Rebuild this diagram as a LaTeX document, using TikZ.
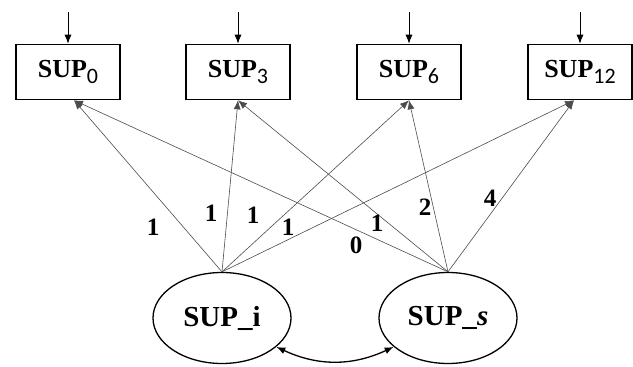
\documentclass[tikz,border=0pt]{standalone}
\usepackage{fontspec}
\setmainfont{Liberation Serif}
\newfontfamily\subfont{Carlito}
\usetikzlibrary{arrows.meta,shapes.geometric}
\newcommand{\wsub}[1]{\raisebox{-6pt}{\subfont\mdseries\fontsize{22}{22}\selectfont #1}}
\begin{document}
\begin{tikzpicture}[x=1pt,y=-1pt,>={Latex[length=9pt,width=7pt]},
  obsbox/.style={draw,line width=1.6pt,minimum width=104pt,minimum height=55pt,inner sep=0pt,font=\fontsize{26}{26}\selectfont\bfseries},
  latent/.style={draw,ellipse,line width=1.3pt,minimum width=138pt,minimum height=91pt,inner sep=0pt,font=\fontsize{29}{29}\selectfont\bfseries},
  load/.style={->,draw=black!70,line width=0.6pt},
  wt/.style={font=\fontsize{25}{25}\selectfont\bfseries}]
\useasboundingbox (0,0) rectangle (633,367);
% indicators
\node[obsbox] (s0) at (68,72) {SUP\wsub{0}};
\node[obsbox] (s3) at (238,72) {SUP\wsub{3}};
\node[obsbox] (s6) at (409,72) {SUP\wsub{6}};
\node[obsbox] (s12) at (580,72) {SUP\wsub{12}};
\foreach \b in {s0,s3,s6,s12}{
  \coordinate (e\b) at ([yshift=32pt]\b.north);
  \draw[->,line width=0.8pt] (e\b)--(\b.north);
}
% growth factors
\node[latent] (si) at (222,318) {SUP\_i};
\node[latent] (ss) at (448,318) {SUP\_\textit{s}};
\draw[<->,line width=1.3pt] (si.-28) to[bend right=25] (ss.-152);
% loadings
\draw[load] (si.north)--([xshift=6pt]s0.south);
\draw[load] (si.north)--(s3.south);
\draw[load] (si.north)--(s6.south);
\draw[load] (si.north)--([xshift=-6pt]s12.south);
\draw[load] (ss.north)--([xshift=6pt]s0.south);
\draw[load] (ss.north)--(s3.south);
\draw[load] (ss.north)--(s6.south);
\draw[load] (ss.north)--([xshift=-6pt]s12.south);
\node[wt] (w1) at (153,227) {1};
\node[wt] (w2) at (211,213) {1};
\node[wt] (w3) at (253,215) {1};
\node[wt] (w4) at (288,227) {1};
\node[wt] (w5) at (356,245) {0};
\node[wt] (w6) at (377,223) {1};
\node[wt] (w7) at (425,207) {2};
\node[wt] (w8) at (490,198) {4};
\end{tikzpicture}
\end{document}
